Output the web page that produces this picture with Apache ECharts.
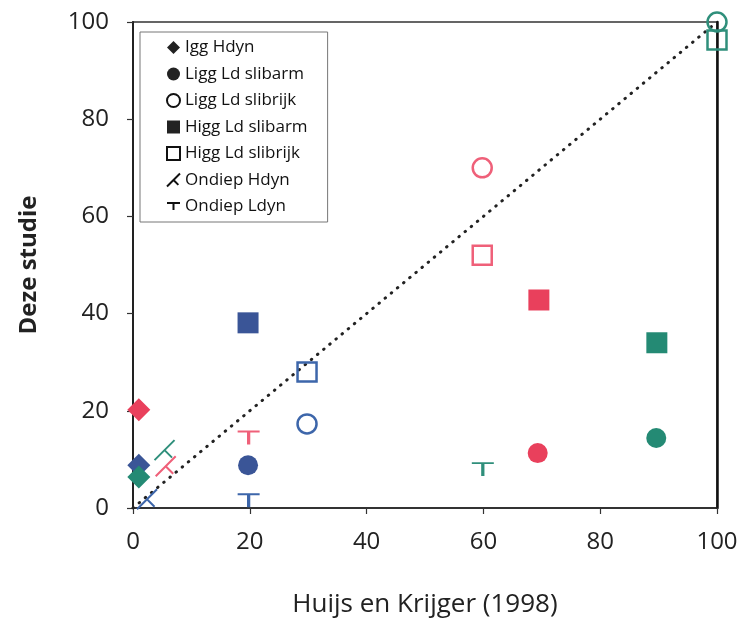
<!DOCTYPE html>
<html>
<head>
<meta charset="utf-8">
<script src="https://cdn.jsdelivr.net/npm/echarts@6/dist/echarts.min.js"></script>
<style>html,body{margin:0;padding:0;background:#fff}#c{width:748px;height:624px}</style>
</head>
<body>
<div id="c"></div>
<script>
// ---- data ----
const xTicks = [0, 20, 40, 60, 80, 100];
const yTicks = [0, 20, 40, 60, 80, 100];
const seriesNames = ['Igg Hdyn', 'Ligg Ld slibarm', 'Ligg Ld slibrijk', 'Higg Ld slibarm', 'Higg Ld slibrijk', 'Ondiep Hdyn', 'Ondiep Ldyn'];
// [x (Huijs en Krijger 1998), y (Deze studie), colour group]
const iggHdyn = [[1, 20.2, 'rood'], [1, 8.8, 'blauw'], [1, 6.4, 'groen']];
const liggSlibarm = [[19.7, 8.8, 'blauw'], [69.3, 11.3, 'rood'], [89.6, 14.4, 'groen']];
const liggSlibrijk = [[29.8, 17.3, 'blauw'], [59.8, 70, 'rood'], [100, 100, 'groen']];
const higgSlibarm = [[19.7, 38.1, 'blauw'], [69.5, 42.8, 'rood'], [89.7, 34, 'groen']];
const higgSlibrijk = [[29.8, 28, 'blauw'], [59.8, 52, 'rood'], [100, 96.3, 'groen']];
const ondiepHdyn = [[2.4, 1.8, 'blauw'], [5.6, 8.6, 'rood'], [5.4, 11.9, 'groen']];
const ondiepLdyn = [[19.8, 14.4, 'rood'], [19.8, 1.5, 'blauw'], [59.9, 7.9, 'groen']];
const oneToOne = [[0, 0], [100, 100]];

const palette = { rood: '#e9405c', blauw: '#3a5597', groen: '#248a74' };
const openPalette = { rood: '#ef6079', blauw: '#3d66aa', groen: '#2f8f7b' };
const FONT = 'Open Sans';
const T_PATH = 'path://M0,0L20,0M10,0L10,11';
const T_DIAG_PATH = 'path://M0,20L20,0M10,10L17.5,17.5';

function filled(arr) {
  return arr.map(d => ({ value: [d[0], d[1]], itemStyle: { color: palette[d[2]] } }));
}
function outlined(arr) {
  return arr.map(d => ({ value: [d[0], d[1]], itemStyle: { color: 'rgba(0,0,0,0)', borderColor: openPalette[d[2]] } }));
}

const chart = echarts.init(document.getElementById('c'), null, { renderer: 'canvas' });

const legendFilled = { color: '#222', borderWidth: 0, opacity: 1 };
const legendOpen = { color: 'rgba(0,0,0,0)', borderColor: '#111', borderWidth: 2, opacity: 1 };

chart.setOption({
  animation: false,
  backgroundColor: '#fff',
  grid: { left: 133, right: 31, top: 22, bottom: 116, show: true, borderColor: '#333', borderWidth: 1.5, backgroundColor: 'transparent' },
  legend: {
    orient: 'vertical', left: 140, top: 32,
    padding: [7, 20, 7, 26], itemGap: 9.5,
    itemWidth: 13, itemHeight: 13,
    borderColor: '#777', borderWidth: 1, backgroundColor: '#fff',
    textStyle: { fontFamily: FONT, fontSize: 17, color: '#111' },
    data: [
      { name: seriesNames[0], itemStyle: legendFilled },
      { name: seriesNames[1], itemStyle: legendFilled },
      { name: seriesNames[2], itemStyle: legendOpen },
      { name: seriesNames[3], itemStyle: legendFilled },
      { name: seriesNames[4], itemStyle: legendOpen },
      { name: seriesNames[5], itemStyle: legendOpen },
      { name: seriesNames[6], itemStyle: legendOpen }
    ]
  },
  xAxis: [{
    type: 'value', min: xTicks[0], max: xTicks[xTicks.length - 1], interval: xTicks[1] - xTicks[0],
    splitLine: { show: false },
    axisLine: { show: true, onZero: false, lineStyle: { color: '#222', width: 1.5 } },
    axisTick: { show: true, inside: false, length: 6, lineStyle: { color: '#333', width: 1.2 } },
    axisLabel: { fontFamily: FONT, fontSize: 24, color: '#222', margin: 22 },
    name: 'Huijs en Krijger (1998)', nameLocation: 'middle', nameGap: 84,
    nameTextStyle: { fontFamily: FONT, fontSize: 26, color: '#222', fontWeight: 500 }
  }],
  yAxis: [{
    type: 'value', min: yTicks[0], max: yTicks[yTicks.length - 1], interval: yTicks[1] - yTicks[0],
    splitLine: { show: false },
    axisLine: { show: true, onZero: false, lineStyle: { color: '#222', width: 2 } },
    axisTick: { show: true, inside: false, length: 6, lineStyle: { color: '#333', width: 1.2 } },
    axisLabel: { fontFamily: FONT, fontSize: 24, color: '#222', margin: 24 },
    name: 'Deze studie', nameLocation: 'middle', nameGap: 92, nameRotate: 90,
    nameTextStyle: { fontFamily: FONT, fontSize: 24, color: '#222', fontWeight: 'bold' }
  }, {
    type: 'value', position: 'right', min: yTicks[0], max: yTicks[yTicks.length - 1],
    axisLine: { show: true, onZero: false, lineStyle: { color: '#111', width: 2.5 } },
    axisTick: { show: false }, axisLabel: { show: false }, splitLine: { show: false }
  }],
  series: [
    {
      type: 'line', data: oneToOne, symbol: 'none', silent: true, z: 1,
      lineStyle: { color: '#222', width: 3, type: [0.5, 7.5], cap: 'round' }
    },
    { name: seriesNames[0], type: 'scatter', symbol: 'diamond', symbolSize: 23, itemStyle: { color: '#222', opacity: 1 }, data: filled(iggHdyn), z: 3 },
    { name: seriesNames[1], type: 'scatter', symbol: 'circle', symbolSize: 20, itemStyle: { color: '#222', opacity: 1 }, data: filled(liggSlibarm), z: 3 },
    { name: seriesNames[2], type: 'scatter', symbol: 'circle', symbolSize: 19, itemStyle: { color: 'rgba(0,0,0,0)', borderColor: '#222', borderWidth: 2.5, opacity: 1 }, data: outlined(liggSlibrijk), z: 3 },
    { name: seriesNames[3], type: 'scatter', symbol: 'rect', symbolSize: 21, itemStyle: { color: '#222', opacity: 1 }, data: filled(higgSlibarm), z: 3 },
    { name: seriesNames[4], type: 'scatter', symbol: 'rect', symbolSize: 19, itemStyle: { color: 'rgba(0,0,0,0)', borderColor: '#222', borderWidth: 2.5, opacity: 1 }, data: outlined(higgSlibrijk), z: 3 },
    { name: seriesNames[5], type: 'scatter', symbol: T_DIAG_PATH, symbolSize: 20, itemStyle: { color: 'rgba(0,0,0,0)', borderColor: '#222', borderWidth: 2, opacity: 1 }, data: outlined(ondiepHdyn), z: 3 },
    { name: seriesNames[6], type: 'scatter', symbol: T_PATH, symbolSize: [22, 13], itemStyle: { color: 'rgba(0,0,0,0)', borderColor: '#222', borderWidth: 2.5, opacity: 1 }, data: outlined(ondiepLdyn), z: 3 }
  ]
});
</script>
</body>
</html>
